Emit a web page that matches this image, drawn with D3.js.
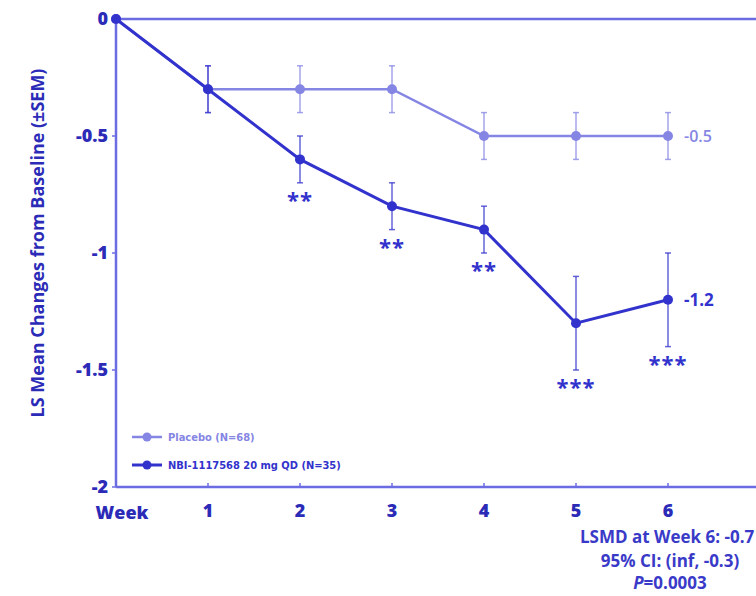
<!doctype html>
<html lang='en'>
<head>
  <meta charset='utf-8'>
  <title>LS Mean Changes from Baseline</title>
  <style>
    html, body { margin: 0; padding: 0; background: #fff; }
    svg { display: block; font-family: 'Open Sans', sans-serif; }
  </style>
</head>
<body>
  <script src='https://d3js.org/d3.v7.min.js'></script>
  <script>
    const weeks = [0, 1, 2, 3, 4, 5, 6]
    const placeboMean = [0, -0.3, -0.3, -0.3, -0.5, -0.5, -0.5]
    const placeboSem = [0, 0.1, 0.1, 0.1, 0.1, 0.1, 0.1]
    const drugMean = [0, -0.3, -0.6, -0.8, -0.9, -1.3, -1.2]
    const drugSem = [0, 0.1, 0.1, 0.1, 0.1, 0.2, 0.2]
    const drugStars = ['', '', '**', '**', '**', '***', '***']
    const yTicks = [0, -0.5, -1, -1.5, -2]
    const xTicks = [1, 2, 3, 4, 5, 6]
    const legendLabels = ['Placebo (N=68)', 'NBI-1117568 20 mg QD (N=35)']
    const noteLines = ['LSMD at Week 6: -0.7', '95% CI: (inf, -0.3)', '=0.0003']

    const width = 756
    const height = 596
    const dark = '#3232cc'
    const light = '#8585e4'
    const axisColor = '#6c6ce2'
    const textColor = '#2b2bb8'

    const x = d3.scaleLinear().domain([0, 7]).range([116, 760])
    const y = d3.scaleLinear().domain([0, -2]).range([19, 487])

    const svg = d3.select('body').append('svg')
      .attr('width', width)
      .attr('height', height)

    // axes
    svg.append('line')
      .attr('x1', x(0)).attr('x2', x(7))
      .attr('y1', y(0)).attr('y2', y(0))
      .attr('stroke', axisColor).attr('stroke-width', 2.5)
    svg.append('line')
      .attr('x1', x(0)).attr('x2', x(7))
      .attr('y1', y(-2)).attr('y2', y(-2))
      .attr('stroke', axisColor).attr('stroke-width', 2.5)
    svg.append('line')
      .attr('x1', x(0)).attr('x2', x(0))
      .attr('y1', y(0)).attr('y2', y(-2))
      .attr('stroke', axisColor).attr('stroke-width', 2.5)

    svg.append('g').selectAll('line')
      .data(xTicks)
      .join('line')
      .attr('x1', d => x(d)).attr('x2', d => x(d))
      .attr('y1', y(-2) - 4).attr('y2', y(-2))
      .attr('stroke', axisColor).attr('stroke-width', 1.5)

    svg.append('g').selectAll('line')
      .data(yTicks)
      .join('line')
      .attr('x1', x(0) - 4).attr('x2', x(0))
      .attr('y1', d => y(d)).attr('y2', d => y(d))
      .attr('stroke', axisColor).attr('stroke-width', 1.5)

    svg.append('g').selectAll('text')
      .data(yTicks)
      .join('text')
      .attr('x', x(0) - 8)
      .attr('y', d => y(d) + 6)
      .attr('text-anchor', 'end')
      .attr('fill', textColor)
      .style('font-size', '18px')
      .style('font-weight', 800)
      .text(d => d)

    svg.append('g').selectAll('text')
      .data(xTicks)
      .join('text')
      .attr('x', d => x(d))
      .attr('y', 517)
      .attr('text-anchor', 'middle')
      .attr('fill', textColor)
      .style('font-size', '18px')
      .style('font-weight', 800)
      .text(d => d)

    svg.append('text')
      .attr('x', 122).attr('y', 519)
      .attr('text-anchor', 'middle')
      .attr('fill', textColor)
      .style('font-size', '18px')
      .style('font-weight', 800)
      .text('Week')

    svg.append('text')
      .attr('transform', 'translate(44,243) rotate(-90)')
      .attr('text-anchor', 'middle')
      .attr('fill', textColor)
      .style('font-size', '18px')
      .style('font-weight', 700)
      .text('LS Mean Changes from Baseline (±SEM)')

    // series
    const series = [
      { mean: placeboMean, sem: placeboSem, color: light, width: 2.5 },
      { mean: drugMean, sem: drugSem, color: dark, width: 3 }
    ]

    const line = d3.line()
      .x((d, i) => x(weeks[i]))
      .y(d => y(d))

    series.forEach(s => {
      const g = svg.append('g')
      const bars = weeks.filter((w, i) => s.sem[i] > 0)
      g.selectAll('line.bar')
        .data(bars)
        .join('line')
        .attr('class', 'bar')
        .attr('x1', d => x(d)).attr('x2', d => x(d))
        .attr('y1', d => y(s.mean[d] + s.sem[d]))
        .attr('y2', d => y(s.mean[d] - s.sem[d]))
        .attr('stroke', s.color).attr('stroke-opacity', 0.75).attr('stroke-width', 1.5)
      g.selectAll('line.capTop')
        .data(bars)
        .join('line')
        .attr('class', 'capTop')
        .attr('x1', d => x(d) - 3).attr('x2', d => x(d) + 3)
        .attr('y1', d => y(s.mean[d] + s.sem[d]))
        .attr('y2', d => y(s.mean[d] + s.sem[d]))
        .attr('stroke', s.color).attr('stroke-opacity', 0.75).attr('stroke-width', 1.5)
      g.selectAll('line.capBot')
        .data(bars)
        .join('line')
        .attr('class', 'capBot')
        .attr('x1', d => x(d) - 3).attr('x2', d => x(d) + 3)
        .attr('y1', d => y(s.mean[d] - s.sem[d]))
        .attr('y2', d => y(s.mean[d] - s.sem[d]))
        .attr('stroke', s.color).attr('stroke-opacity', 0.75).attr('stroke-width', 1.5)
      g.append('path')
        .attr('d', line(s.mean))
        .attr('fill', 'none')
        .attr('stroke', s.color)
        .attr('stroke-width', s.width)
      g.selectAll('circle')
        .data(s.mean)
        .join('circle')
        .attr('cx', (d, i) => x(weeks[i]))
        .attr('cy', d => y(d))
        .attr('r', 5)
        .attr('fill', s.color)
    })

    // significance stars
    svg.append('g').selectAll('text')
      .data(weeks.filter(w => drugStars[w] !== ''))
      .join('text')
      .attr('x', d => x(d))
      .attr('y', d => y(drugMean[d] - drugSem[d]) + 25)
      .attr('text-anchor', 'middle')
      .attr('fill', dark)
      .style('font-size', '22px')
      .style('font-weight', 700)
      .style('letter-spacing', '1px')
      .text(d => drugStars[d])

    // end labels
    svg.append('text')
      .attr('x', x(6) + 16).attr('y', y(placeboMean[6]) + 6)
      .attr('fill', light)
      .style('font-size', '16px')
      .style('font-weight', 600)
      .text(placeboMean[6])
    svg.append('text')
      .attr('x', x(6) + 16).attr('y', y(drugMean[6]) + 6)
      .attr('fill', dark)
      .style('font-size', '17px')
      .style('font-weight', 700)
      .text(drugMean[6])

    // legend
    const legend = svg.append('g').attr('transform', 'translate(132,437)')
    ;[light, dark].forEach((c, i) => {
      const row = legend.append('g').attr('transform', `translate(0,${i * 28})`)
      row.append('line')
        .attr('x1', 0).attr('x2', 30)
        .attr('stroke', c).attr('stroke-width', i ? 3 : 2.5)
      row.append('circle')
        .attr('cx', 15).attr('r', 4.5)
        .attr('fill', c)
      row.append('text')
        .attr('x', 36).attr('y', 4)
        .attr('fill', c)
        .style('font-family', "'Liberation Sans Narrow', 'DejaVu Sans Condensed', sans-serif")
        .style('font-size', '11px')
        .style('font-weight', 700)
        .text(legendLabels[i])
    })

    // footnote
    const note = svg.append('g')
      .attr('fill', '#3a3ac8')
      .style('font-size', '17px')
      .style('font-weight', 700)
    note.append('text')
      .attr('x', 580).attr('y', 543)
      .text(noteLines[0])
    note.append('text')
      .attr('x', 670).attr('y', 567)
      .attr('text-anchor', 'middle')
      .text(noteLines[1])
    const p = note.append('text')
      .attr('x', 670).attr('y', 589)
      .attr('text-anchor', 'middle')
    p.append('tspan').style('font-style', 'italic').text('P')
    p.append('tspan').text(noteLines[2])
  </script>
</body>
</html>
